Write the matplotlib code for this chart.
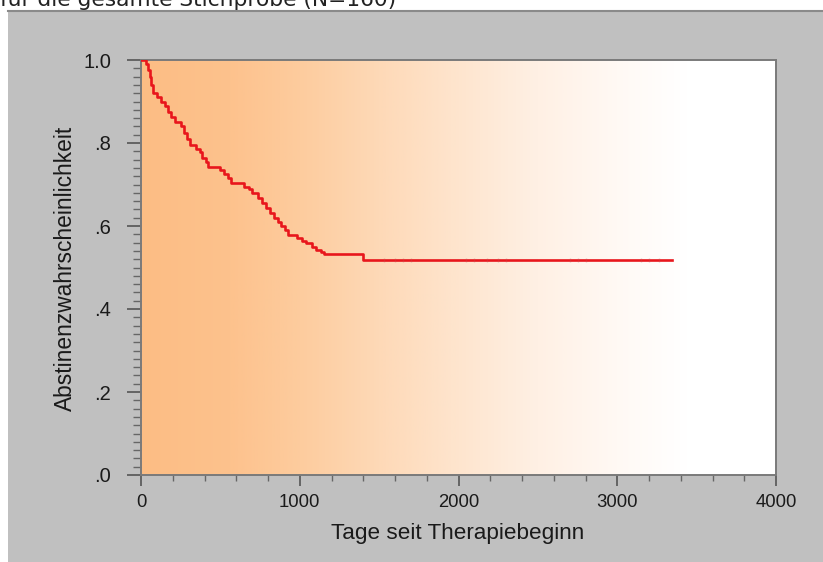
import matplotlib
matplotlib.use("Agg")
import matplotlib.pyplot as plt
import numpy as np
from matplotlib.patches import Rectangle
from matplotlib.colors import LinearSegmentedColormap
from matplotlib.ticker import MultipleLocator, FixedLocator, FixedFormatter

# ---- data ----
event_days = [0, 30, 45, 55, 65, 75, 100, 125, 150, 170, 190, 215, 250, 270, 290, 310,
              345, 370, 385, 410, 425, 500, 520, 545, 565, 650, 680, 700, 740, 760,
              790, 815, 840, 860, 885, 905, 925, 985, 1015, 1040, 1080, 1100, 1135,
              1155, 1400, 3345]
survival = [1.0, 0.99, 0.975, 0.96, 0.94, 0.92, 0.91, 0.90, 0.89, 0.875, 0.862, 0.851,
            0.84, 0.825, 0.81, 0.795, 0.785, 0.778, 0.763, 0.755, 0.743, 0.735, 0.725,
            0.715, 0.703, 0.695, 0.688, 0.680, 0.668, 0.655, 0.643, 0.632, 0.62, 0.61,
            0.60, 0.59, 0.578, 0.57, 0.565, 0.558, 0.55, 0.542, 0.538, 0.533, 0.518, 0.518]
censored_days = [1530, 1600, 1650, 1700, 2050, 2100, 2180, 2250, 2300, 2700, 2750,
                 2800, 3150, 3200, 3260]
censored_surv = [0.518] * len(censored_days)

x_ticks = [0, 1000, 2000, 3000, 4000]
x_ticklabels = ["0", "1000", "2000", "3000", "4000"]
y_ticks = [0.0, 0.2, 0.4, 0.6, 0.8, 1.0]
y_ticklabels = [".0", ".2", ".4", ".6", ".8", "1.0"]

title_text = "für die gesamte Stichprobe (N=160)"
xlabel = "Tage seit Therapiebeginn"
ylabel = "Abstinenzwahrscheinlichkeit"

# ---- figure ----
W, H = 823, 562
fig = plt.figure(figsize=(W / 100, H / 100), dpi=100)
fig.patch.set_facecolor("white")

# gray panel
panel = Rectangle((8 / W, 0), 1 - 8 / W, 1 - 10 / H, transform=fig.transFigure,
                  facecolor="#c0c0c0", edgecolor="none", zorder=-10)
fig.add_artist(panel)
fig.add_artist(plt.Line2D([8 / W, 1], [1 - 10.5 / H, 1 - 10.5 / H], transform=fig.transFigure,
                          color="#8a8a8a", lw=1.5, zorder=-9))

fig.text(0.0, 1 - 6 / H, title_text, fontsize=15.7, family="DejaVu Sans",
         va="baseline", ha="left", color="#222222")

left, right, top, bottom = 141, 776, 60, 475
ax = fig.add_axes([left / W, 1 - bottom / H, (right - left) / W, (bottom - top) / H])

# gradient background
stops = [(0.0, (252, 189, 132)), (0.14, (253, 194, 141)), (0.25, (253, 204, 158)),
         (0.375, (254, 217, 183)), (0.5, (254, 229, 206)), (0.625, (255, 240, 228)),
         (0.75, (255, 249, 244)), (0.86, (255, 255, 255)), (1.0, (255, 255, 255))]
cmap = LinearSegmentedColormap.from_list("bg", [(p, tuple(c / 255 for c in col)) for p, col in stops])
grad = np.linspace(0, 1, 512).reshape(1, -1)
ax.imshow(grad, aspect="auto", cmap=cmap, extent=[0, 4000, 0, 1.0], zorder=0, interpolation="bilinear")

ax.step(event_days, survival, where="post", color="#e8161c", lw=1.9, zorder=3)
ax.plot(censored_days, censored_surv, linestyle="none", marker="|", markersize=3.5,
        color="#c05050", alpha=0.3, zorder=4)

ax.set_xlim(0, 4000)
ax.set_ylim(0, 1.0)

ax.xaxis.set_major_locator(FixedLocator(x_ticks))
ax.xaxis.set_major_formatter(FixedFormatter(x_ticklabels))
ax.xaxis.set_minor_locator(MultipleLocator(200))
ax.yaxis.set_major_locator(FixedLocator(y_ticks))
ax.yaxis.set_major_formatter(FixedFormatter(y_ticklabels))
ax.yaxis.set_minor_locator(MultipleLocator(0.02))

for s in ax.spines.values():
    s.set_color("#7a7a7a")
    s.set_linewidth(1.4)

ax.tick_params(axis="both", which="major", direction="out", color="#555555", width=1.2)
ax.tick_params(axis="both", which="minor", direction="out", color="#666666", width=1.0)
ax.tick_params(axis="y", which="major", length=10, pad=11.5, labelsize=14.5, labelcolor="#1a1a1a")
ax.tick_params(axis="y", which="minor", length=6)
ax.tick_params(axis="x", which="major", length=8, pad=6, labelsize=13.3, labelcolor="#1a1a1a")
ax.tick_params(axis="x", which="minor", length=4)
for lab in ax.get_xticklabels() + ax.get_yticklabels():
    lab.set_family("Liberation Sans")

ax.set_xlabel(xlabel, fontsize=16.2, family="Liberation Sans", color="#1a1a1a")
ax.set_ylabel(ylabel, fontsize=16.4, family="Liberation Sans", color="#1a1a1a")
ax.xaxis.set_label_coords((458 - left) / (right - left), -(534 - bottom) / (bottom - top))
ax.yaxis.set_label_coords(-(left - 65) / (right - left), (bottom - 268) / (bottom - top))
ax.xaxis.label.set_va("center")
ax.yaxis.label.set_va("center")

fig.savefig("out.png", dpi=100)
